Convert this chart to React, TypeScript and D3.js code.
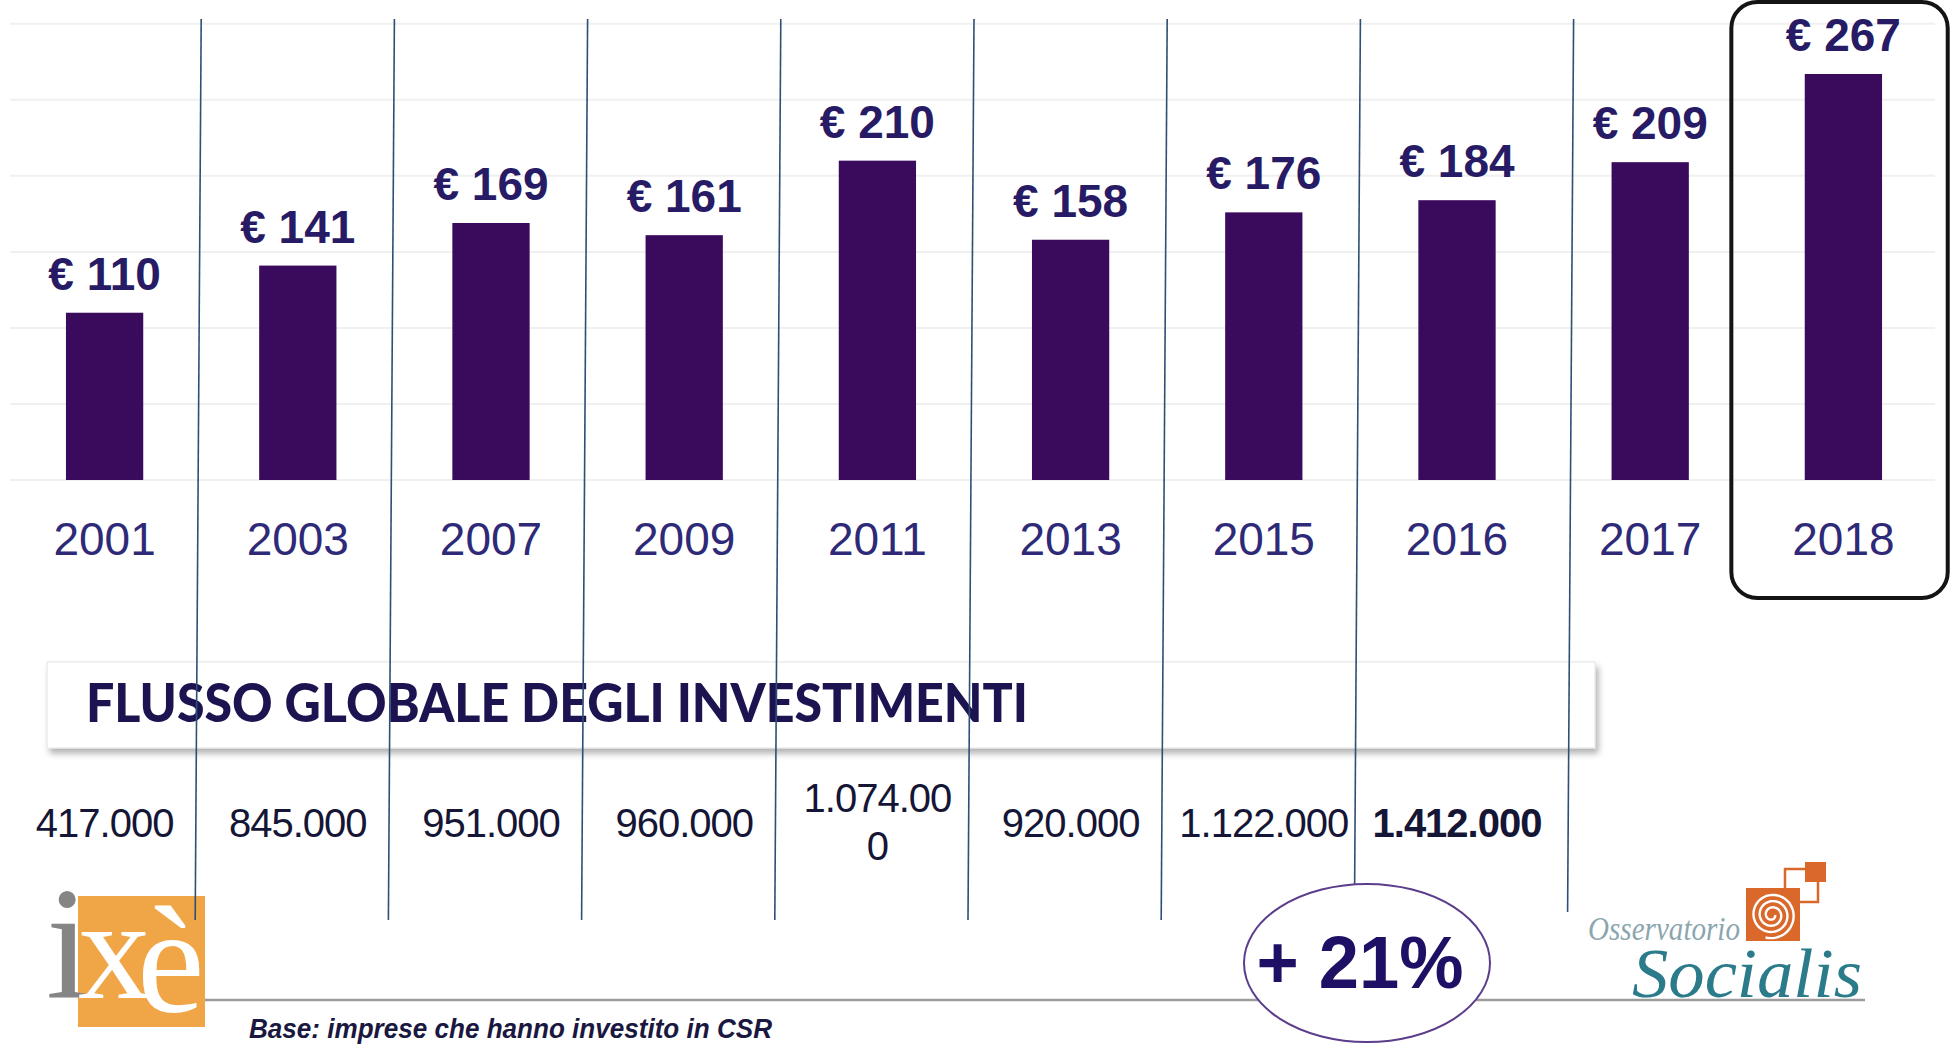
import React from 'react';
import * as d3 from 'd3';

const years = ['2001', '2003', '2007', '2009', '2011', '2013', '2015', '2016', '2017', '2018'];
const spending = [110, 141, 169, 161, 210, 158, 176, 184, 209, 267];
const gridTicks = [0, 50, 100, 150, 200, 250, 300];
const investmentFlowLines: string[][] = [
  ['417.000'],
  ['845.000'],
  ['951.000'],
  ['960.000'],
  ['1.074.00', '0'],
  ['920.000'],
  ['1.122.000'],
  ['1.412.000'],
];
const highlightFlowYear = '2016';
const highlightYear = '2018';
const title = 'FLUSSO GLOBALE DEGLI INVESTIMENTI';
const growthLabel = '+ 21%';
const baseNote = 'Base: imprese che hanno investito in CSR';

const W = 1953;
const H = 1048;

export default function App() {
  const x = d3.scaleBand<string>().domain(years).range([8, 1940]).paddingInner(0.6).paddingOuter(0.3);
  const y = d3.scaleLinear().domain([0, 300]).range([480, 23.8]);
  const step = x.step();
  const bw = x.bandwidth();
  const gap = (step - bw) / 2;

  // dividers between the first 9 years
  const dividers = years.slice(1, 9).map((yr, i, arr) => {
    const bx = (x(yr) as number) - gap + (i === arr.length - 1 ? 20 : 0);
    return { top: bx, bottom: bx - 6, y2: i === arr.length - 1 ? 912 : 920 };
  });

  const hx = x(highlightYear) as number;

  // spiral for the logo
  const cx = 1772, cy = 915;
  const spiralPts: [number, number][] = [];
  for (let t = 0; t <= Math.PI * 2 * 3.3; t += 0.1) {
    const r = 3 + (t / (Math.PI * 2)) * 6.2;
    spiralPts.push([cx + r * Math.cos(t), cy + r * Math.sin(t)]);
  }
  const spiral = d3.line().curve(d3.curveCatmullRom)(spiralPts) || '';

  return (
    <svg width={W} height={H} style={{ position: 'absolute', left: 0, top: 0, background: '#fff' }}>
      <defs>
        <filter id="shadow" x="-5%" y="-30%" width="110%" height="170%">
          <feDropShadow dx="3" dy="5" stdDeviation="3" floodColor="#000" floodOpacity="0.3" />
        </filter>
      </defs>
      <rect x={0} y={0} width={W} height={H} fill="#fff" />

      {/* gridlines */}
      {gridTicks.map((t) => (
        <line key={t} x1={10} x2={1935} y1={y(t)} y2={y(t)} stroke="#f0f0f0" strokeWidth={2} />
      ))}

      {/* bars */}
      {years.map((yr, i) => (
        <rect key={yr} x={x(yr)} y={y(spending[i])} width={bw} height={y(0) - y(spending[i])} fill="#3a0a5c" />
      ))}

      {/* value labels */}
      {years.map((yr, i) => (
        <text
          key={'v' + yr}
          x={(x(yr) as number) + bw / 2}
          y={y(spending[i]) - 23}
          textAnchor="middle"
          fontFamily="'Liberation Sans', Arial, sans-serif"
          fontWeight={700}
          fontSize={46}
          fill="#271b65"
        >
          {`€ ${spending[i]}`}
        </text>
      ))}

      {/* year labels */}
      {years.map((yr) => (
        <text
          key={'y' + yr}
          x={(x(yr) as number) + bw / 2}
          y={555}
          textAnchor="middle"
          fontFamily="'Liberation Sans', Arial, sans-serif"
          fontSize={46}
          fill="#2f2a78"
        >
          {yr}
        </text>
      ))}

      {/* title box */}
      <rect x={47} y={662} width={1548} height={86} fill="#fff" stroke="#e4e4e4" strokeWidth={1} filter="url(#shadow)" />
      <text
        x={86}
        y={722}
        fontFamily="Lato, 'Liberation Sans', sans-serif"
        fontWeight={900}
        fontSize={54}
        textLength={942}
        lengthAdjust="spacingAndGlyphs"
        fill="#1b1450"
      >
        {title}
      </text>

      {/* investment flow row */}
      {investmentFlowLines.map((lines, i) => {
        const yr = years[i];
        const cxl = (x(yr) as number) + bw / 2;
        const bold = yr === highlightFlowYear;
        const baseY = lines.length > 1 ? 812 : 837;
        return (
          <text
            key={'f' + yr}
            textAnchor="middle"
            fontFamily="'Liberation Sans', Arial, sans-serif"
            fontSize={40}
            fontWeight={bold ? 700 : 400}
            fill="#151535"
            letterSpacing={-1}
          >
            {lines.map((l, j) => (
              <tspan key={j} x={cxl} y={baseY + j * 48}>
                {l}
              </tspan>
            ))}
          </text>
        );
      })}

      {/* ixè logo */}
      <rect x={78} y={896} width={127} height={131} fill="#f0a546" />
      <text fontFamily="'Liberation Serif', 'Times New Roman', serif">
        <tspan x={46} y={998} fontSize={160} fill="#858585">i</tspan>
        <tspan x={78} y={998} fontSize={145} fill="#fff">x</tspan>
        <tspan x={137} y={1012} fontSize={152} fill="#fff">è</tspan>
      </text>

      {/* bottom grey line */}
      <line x1={205} x2={1865} y1={1000} y2={1000} stroke="#9c9c9c" strokeWidth={2.5} />

      {/* base note */}
      <text
        x={249}
        y={1038}
        fontFamily="'Liberation Sans', Arial, sans-serif"
        fontStyle="italic"
        fontWeight={700}
        fontSize={27}
        textLength={523}
        lengthAdjust="spacingAndGlyphs"
        fill="#1a1840"
      >
        {baseNote}
      </text>

      {/* dividers */}
      {dividers.map((d, i) => (
        <line key={'d' + i} x1={d.top} y1={19} x2={d.bottom} y2={d.y2} stroke="#2f4f74" strokeWidth={1.6} />
      ))}

      {/* growth circle */}
      <ellipse cx={1367} cy={963} rx={123} ry={79} fill="#fff" stroke="#5b3d8c" strokeWidth={2} />
      <text
        x={1360}
        y={988}
        textAnchor="middle"
        fontFamily="'Liberation Sans', Arial, sans-serif"
        fontWeight={700}
        fontSize={75}
        textLength={207}
        lengthAdjust="spacingAndGlyphs"
        fill="#1f1066"
      >
        {growthLabel}
      </text>

      {/* Osservatorio Socialis logo */}
      <rect x={1785} y={869} width={33} height={33} fill="none" stroke="#d9682a" strokeWidth={2.5} />
      <rect x={1746} y={888} width={54} height={53} fill="#d9682a" />
      <path d={spiral} fill="none" stroke="#fff" strokeWidth={2.4} />
      <rect x={1805} y={862} width={21} height={20} fill="#d9682a" />
      <text fontFamily="'Liberation Serif', 'Times New Roman', serif" fontStyle="italic">
        <tspan x={1588} y={940} fontSize={33} textLength={152} lengthAdjust="spacingAndGlyphs" fill="#8ba6ae">
          Osservatorio
        </tspan>
        <tspan x={1632} y={997} fontSize={70} textLength={230} lengthAdjust="spacingAndGlyphs" fill="#2b7b8b">
          Socialis
        </tspan>
      </text>

      {/* highlight frame for the last year */}
      <rect
        x={hx - 0.38 * step}
        y={2}
        width={bw + 0.72 * step}
        height={596}
        rx={26}
        ry={26}
        fill="none"
        stroke="#141414"
        strokeWidth={4}
      />
    </svg>
  );
}
